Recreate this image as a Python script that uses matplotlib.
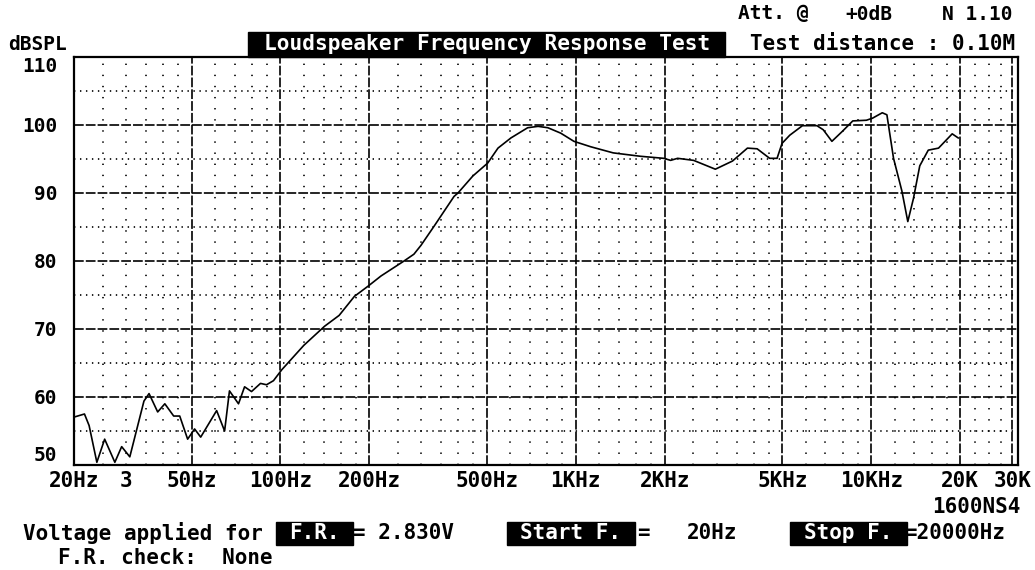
import matplotlib as mpl
import matplotlib.pyplot as plt
from matplotlib.patches import Rectangle

mpl.rcParams['font.family'] = 'DejaVu Sans Mono'
mpl.rcParams['font.weight'] = 'bold'
mpl.rcParams['lines.scale_dashes'] = False

# response curve (Hz, dB SPL)
freq = [20.2, 21.7, 22.5, 23.9, 25.4, 27.5, 29.0, 30.9, 34.5, 35.9, 38.4, 40.6,
        43.5, 45.6, 48.5, 51.2, 53.7, 60.8, 64.7, 67.2, 72.1, 75.6, 79.8, 85.6,
        89.7, 94.7, 101, 120, 141, 158, 178, 198, 219, 262, 283, 299, 331, 387,
        399, 448, 503, 545, 603, 687, 745, 804, 889, 985, 1123, 1338, 1655, 1983,
        2094, 2211, 2504, 2967, 3391, 3810, 4110, 4530, 4800, 4990, 5300, 5850,
        6550, 6880, 7360, 8000, 8660, 9630, 10100, 10900, 11300, 11900, 12700,
        13300, 13900, 14600, 15600, 16900, 18800, 19700]
spl = [57.1, 57.5, 55.8, 50.4, 53.8, 50.4, 52.7, 51.2, 59.4, 60.5, 57.8, 59.0,
       57.2, 57.2, 53.8, 55.3, 54.1, 58.0, 55.0, 60.9, 59.0, 61.5, 60.8, 62.0,
       61.8, 62.4, 64.0, 67.6, 70.4, 72.0, 74.8, 76.3, 77.8, 80.0, 81.0, 82.3,
       85.1, 89.5, 90.0, 92.5, 94.4, 96.6, 98.1, 99.6, 99.8, 99.6, 98.8, 97.6,
       96.8, 95.9, 95.4, 95.1, 94.8, 95.1, 94.8, 93.5, 94.7, 96.6, 96.5, 95.1,
       95.1, 97.3, 98.5, 99.9, 99.9, 99.3, 97.6, 99.1, 100.6, 100.7, 101.0,
       101.8, 101.5, 95.1, 90.3, 85.8, 89.2, 94.0, 96.3, 96.6, 98.7, 98.1]

x_tick_pos = [20, 30, 50, 100, 200, 500, 1000, 2000, 5000, 10000, 20000, 30000]
x_tick_lab = ['20Hz', '3', '50Hz', '100Hz', '200Hz', '500Hz', '1KHz', '2KHz',
              '5KHz', '10KHz', '20K', '30K']
y_ticks = [50, 60, 70, 80, 90, 100, 110]

major_f = [50, 100, 200, 500, 1000, 2000, 5000, 10000, 20000, 30000]
minor_f = [25, 30, 35, 40, 45, 60, 70, 80, 90, 120, 140, 160, 180,
           250, 300, 350, 400, 450, 600, 700, 800, 900,
           1200, 1400, 1600, 1800, 2500, 3000, 3500, 4000, 4500,
           6000, 7000, 8000, 9000, 12000, 14000, 16000, 18000,
           22500, 25000, 27500]
major_db = [60, 70, 80, 90, 100]
minor_db = [55, 65, 75, 85, 95, 105]

W, H = 1035, 570


def px(x, y):
    return x / W, 1 - y / H


fig = plt.figure(figsize=(W / 100, H / 100), dpi=100)
ax = fig.add_axes([74 / W, 1 - 465 / H, (1018 - 74) / W, (465 - 57) / H])
ax.set_xscale('log')
ax.set_xlim(20.3, 31400)
ax.set_ylim(50, 110)

for f in minor_f:
    ax.axvline(f, color='k', lw=1.2, ls=(0, (1, 7)), zorder=1)
for f in major_f:
    ax.axvline(f, color='k', lw=1.2, ls=(0, (7, 1.5)), zorder=1)
for d in minor_db:
    ax.axhline(d, color='k', lw=1.2, ls=(0, (1, 3.3)), zorder=1)
for d in major_db:
    ax.axhline(d, color='k', lw=1.2, ls=(0, (7, 1.5)), zorder=1)

ax.plot(freq, spl, color='k', lw=1.2, zorder=3)

ax.set_xticks(x_tick_pos, x_tick_lab)
ax.minorticks_off()
ax.set_yticks(y_ticks, [str(v) for v in y_ticks])
ax.tick_params(axis='x', length=0, pad=4, labelsize=15)
ax.tick_params(axis='y', length=0, pad=12, labelsize=14)
ylabs = ax.get_yticklabels()
ylabs[-1].set_va('top')
ylabs[0].set_va('bottom')
for s in ax.spines.values():
    s.set_linewidth(1.6)

# header
fig.text(*px(8, 44), 'dBSPL', fontsize=14, va='center', ha='left')
fig.add_artist(Rectangle(px(248, 57), (725 - 248) / W, 25 / H,
                         transform=fig.transFigure, color='black'))
fig.text(*px(487, 44), 'Loudspeaker Frequency Response Test', color='white',
         fontsize=15.2, va='center', ha='center')
fig.text(*px(1015, 44), 'Test distance : 0.10M', fontsize=15, va='center', ha='right')
fig.text(*px(738, 14), 'Att. @', fontsize=14, va='center', ha='left')
fig.text(*px(845, 14), '+0dB', fontsize=14, va='center', ha='left')
fig.text(*px(1013, 14), 'N 1.10', fontsize=14, va='center', ha='right')

# footer
fig.text(*px(1020, 507), '1600NS4', fontsize=15, va='center', ha='right')
fig.text(*px(23, 533), 'Voltage applied for', fontsize=15, va='center', ha='left')
for x0, x1, lab in [(276, 353, 'F.R.'), (507, 635, 'Start F.'), (790, 907, 'Stop F.')]:
    fig.add_artist(Rectangle(px(x0, 545), (x1 - x0) / W, 23 / H,
                             transform=fig.transFigure, color='black'))
    fig.text(*px((x0 + x1) / 2, 533), lab, color='white', fontsize=15,
             va='center', ha='center')
fig.text(*px(353, 533), '= 2.830V', fontsize=15, va='center', ha='left')
fig.text(*px(637, 533), '=', fontsize=15, va='center', ha='left')
fig.text(*px(687, 533), '20Hz', fontsize=15, va='center', ha='left')
fig.text(*px(904, 533), '=20000Hz', fontsize=15, va='center', ha='left')
fig.text(*px(58, 558), 'F.R. check:  None', fontsize=15, va='center', ha='left')

fig.savefig('out.png', dpi=100)
